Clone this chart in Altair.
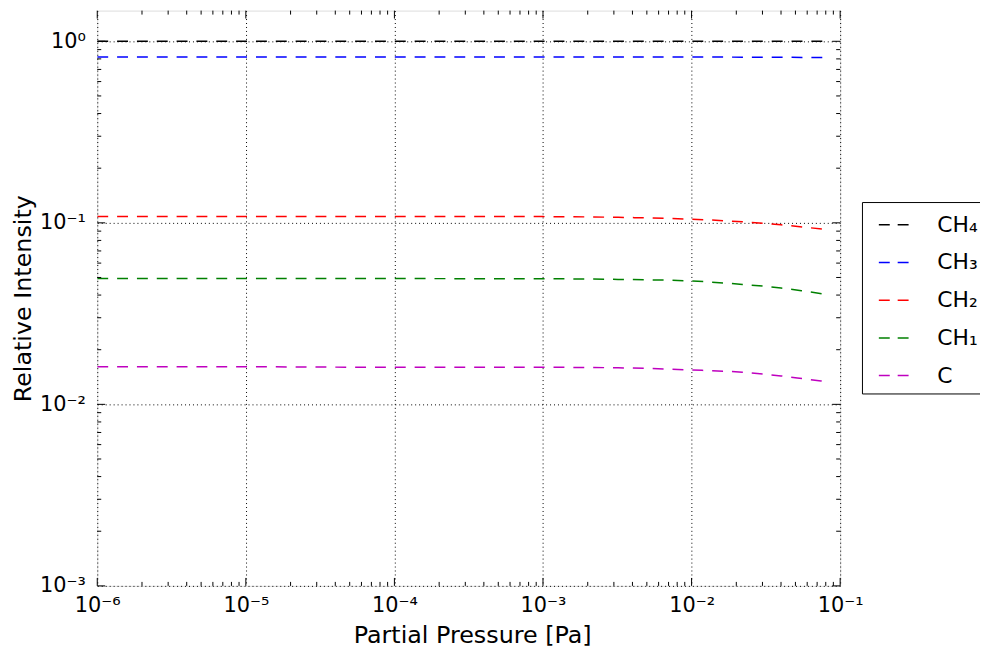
import altair as alt
import pandas as pd

# ---- data ----
pressure = [1e-6, 1e-5, 1e-4, 1e-3, 3.2e-3, 1e-2, 2.2e-2, 4e-2, 6e-2, 8e-2]
ch4 = [1.0, 1.0, 1.0, 1.0, 1.0, 1.0, 1.0, 1.0, 1.0, 1.0]
ch3 = [0.82, 0.82, 0.82, 0.82, 0.82, 0.819, 0.818, 0.817, 0.815, 0.814]
ch2 = [0.1085, 0.1085, 0.1084, 0.1082, 0.1072, 0.1047, 0.1013, 0.0975, 0.0943, 0.0919]
ch1 = [0.0494, 0.0494, 0.0493, 0.0492, 0.0488, 0.0478, 0.0458, 0.04375, 0.0418, 0.0404]
c_ = [0.0161, 0.0161, 0.0160, 0.0160, 0.0159, 0.01547, 0.01502, 0.01434, 0.01375, 0.01336]

species = ["CH₄", "CH₃", "CH₂", "CH₁", "C"]
colors = ["#000000", "#0000ff", "#ff0000", "#008000", "#bf00bf"]
series = [ch4, ch3, ch2, ch1, c_]

x_major = [1e-6, 1e-5, 1e-4, 1e-3, 1e-2, 1e-1]
y_major = [1e-3, 1e-2, 1e-1, 1.0]
x_minor = [k * d for d in [1e-6, 1e-5, 1e-4, 1e-3, 1e-2] for k in range(2, 10)]
y_minor = [k * d for d in [1e-3, 1e-2, 1e-1] for k in range(2, 10)]

rows = []
for name, vals in zip(species, series):
    for p, v in zip(pressure, vals):
        rows.append({"p": p, "v": v, "s": name})
df = pd.DataFrame(rows)

W, H = 749, 580
FONT = "DejaVu Sans"

xlab = "['10⁻⁶','10⁻⁵','10⁻⁴','10⁻³','10⁻²','10⁻¹','10⁰'][round(log(datum.value)/LN10)+6]"
ylab = "['10⁻³','10⁻²','10⁻¹','10⁰'][round(log(datum.value)/LN10)+3]"

xscale = alt.Scale(type="log", domain=[1e-6, 1e-1], nice=False)
yscale = alt.Scale(type="log", domain=[1e-3, 1.476], nice=False)

lines = alt.Chart(df).mark_line(strokeDash=[11, 9], strokeWidth=1.5, clip=True,
                                interpolate="monotone").encode(
    x=alt.X("p:Q", scale=xscale,
            axis=alt.Axis(title="Partial Pressure [Pa]", values=x_major, labelExpr=xlab,
                          grid=True, gridDash=[1, 3], gridColor="black", gridOpacity=1,
                          gridWidth=1, ticks=False, domain=False, labelPadding=9,
                          labelFontSize=21, labelFont=FONT, labelColor="black",
                          titleFontSize=24, titleFont=FONT, titleFontWeight="normal",
                          titleColor="black", titleY=57, titleX=378,
                          titleBaseline="alphabetic", labelFlush=False)),
    y=alt.Y("v:Q", scale=yscale,
            axis=alt.Axis(title="Relative Intensity", values=y_major, labelExpr=ylab,
                          grid=True, gridDash=[1, 3], gridColor="black", gridOpacity=1,
                          gridWidth=1, ticks=False, domain=False, labelPadding=12,
                          labelFontSize=21, labelFont=FONT, labelColor="black",
                          titleFontSize=24, titleFont=FONT, titleFontWeight="normal",
                          titleColor="black", titleX=-67, titleBaseline="alphabetic",
                          labelFlush=False)),
    color=alt.Color("s:N", sort=species,
                    scale=alt.Scale(domain=species, range=colors),
                    legend=alt.Legend(orient="none", legendX=771, legendY=193, title=None,
                                      symbolType="stroke", symbolSize=900,
                                      symbolStrokeWidth=1.5, symbolDash=[11, 8],
                                      symbolOffset=9,
                                      labelFontSize=22, labelFont=FONT, labelColor="black",
                                      padding=7, rowPadding=11, labelOffset=28,
                                      strokeColor="black", fillColor="white")),
    detail="s:N",
)

xt_major = pd.DataFrame({"p": x_major})
xt_minor = pd.DataFrame({"p": x_minor})
yt_major = pd.DataFrame({"v": y_major})
yt_minor = pd.DataFrame({"v": y_minor})

def xticks(data, length):
    bottom = alt.Chart(data).mark_rule(color="black", strokeWidth=1).encode(
        x=alt.X("p:Q", scale=xscale), y=alt.value(H), y2=alt.value(H - length))
    top = alt.Chart(data).mark_rule(color="black", strokeWidth=1).encode(
        x=alt.X("p:Q", scale=xscale), y=alt.value(0), y2=alt.value(length))
    return [bottom, top]

def yticks(data, length):
    left = alt.Chart(data).mark_rule(color="black", strokeWidth=1).encode(
        y=alt.Y("v:Q", scale=yscale), x=alt.value(0), x2=alt.value(length))
    right = alt.Chart(data).mark_rule(color="black", strokeWidth=1).encode(
        y=alt.Y("v:Q", scale=yscale), x=alt.value(W), x2=alt.value(W - length))
    return [left, right]

layers = [lines] + xticks(xt_major, 8) + xticks(xt_minor, 4) + yticks(yt_major, 8) + yticks(yt_minor, 4)

chart = alt.layer(*layers).properties(
    width=W, height=H,
    autosize=alt.AutoSizeParams(type="none"),
    padding={"left": 90, "top": 0, "right": 141, "bottom": 60},
).configure_view(stroke="black", strokeWidth=1.5).configure(background="white")

chart.save("out.html", embed_options={"renderer": "svg", "actions": False})
